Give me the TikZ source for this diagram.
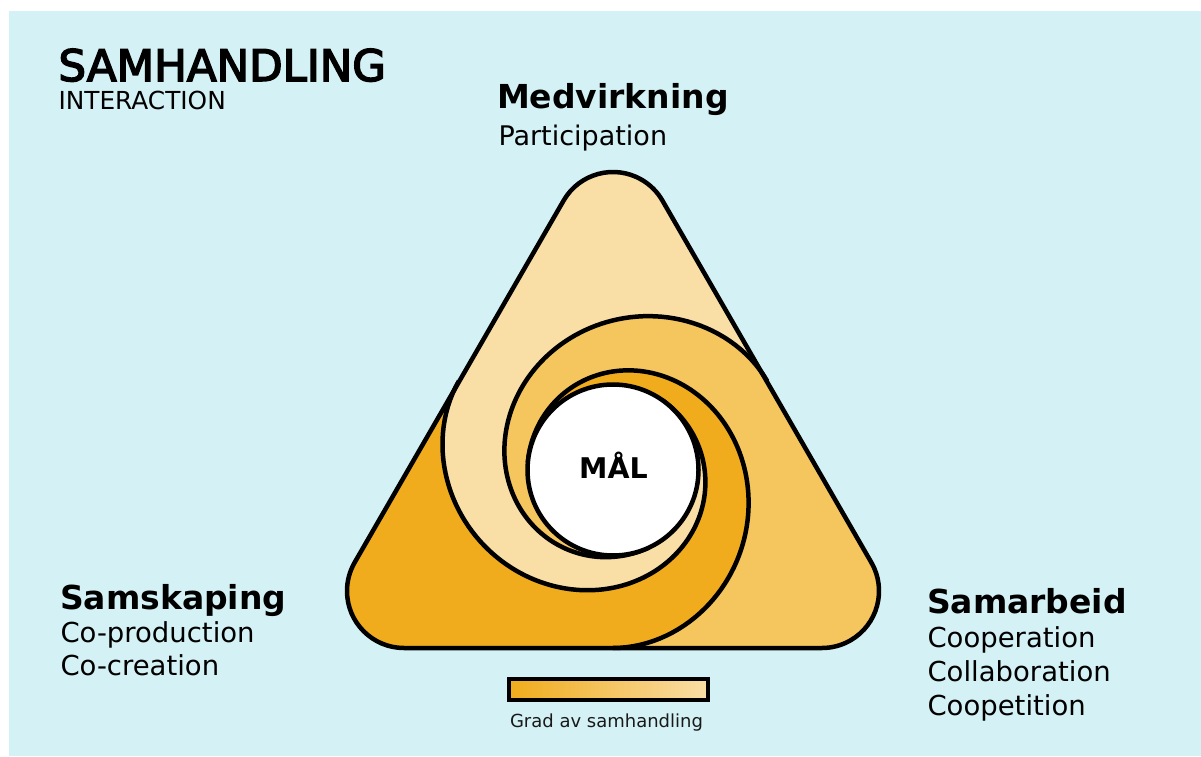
\documentclass[tikz,border=0pt]{standalone}
\usepackage{fontspec}
\setmainfont{DejaVu Sans}
\newfontfamily\semibold{DejaVu Sans}[FakeBold=3.5]
\definecolor{bgc}{HTML}{D4F2F5}
\definecolor{lightc}{HTML}{F9DEA6}
\definecolor{medc}{HTML}{F5C55E}
\definecolor{darkc}{HTML}{F0AC1C}
% band: inner spiral (rotated -120) traversed backwards, corner, outer spiral forwards
\newcommand\bandfill[1]{%
  \fill[#1] plot[domain=0:265, samples=120, variable=\p] ({55-\p}:{sr(175-\p)})
   -- (-307.7,-178)
   -- plot[domain=-90:175, samples=120, variable=\p] ({\p}:{sr(\p)})
   -- (0,0) -- cycle;}
\newcommand\spiralline{%
  \draw[blackline] plot[domain=-90:175, samples=120, variable=\p] ({\p}:{sr(\p)});}
\begin{document}
\begin{tikzpicture}[x=1pt,y=1pt,
  declare function={st(\a)=(\a+90)/265;
    sr(\a)=85.5+92.5*(1-st(\a))^2*(1+2*st(\a)-8.544*st(\a)^2+13.83*st(\a)^3-6.49*st(\a)^4);},
  blackline/.style={line width=4.5pt, line join=round, draw=black},
  lbl/.style={anchor=base west, inner sep=0pt, outer sep=0pt, text=black},
  headfont/.style={font=\fontsize{33}{40}\selectfont\bfseries},
  subfont/.style={font=\fontsize{27.5}{33}\selectfont}]
\useasboundingbox (0,0) rectangle (1201,756);
\fill[white] (0,0) rectangle (1201,756);
\fill[bgc] (9,0) rectangle (1201,745);

\begin{scope}[shift={(613,286)}]
  \begin{scope}
    \clip (-49.36,269.5) arc[start angle=150,end angle=30,radius=57]
      -- (258.36,-92.5) arc[start angle=30,end angle=-90,radius=57]
      -- (-209,-178) arc[start angle=270,end angle=150,radius=57] -- cycle;
    \bandfill{darkc}
    \begin{scope}[rotate=-120]\bandfill{lightc}\end{scope}
    \begin{scope}[rotate=120]\bandfill{medc}\end{scope}
  \end{scope}
  \spiralline
  \begin{scope}[rotate=-120]\spiralline\end{scope}
  \begin{scope}[rotate=120]\spiralline\end{scope}
  \draw[blackline] (-49.36,269.5) arc[start angle=150,end angle=30,radius=57]
      -- (258.36,-92.5) arc[start angle=30,end angle=-90,radius=57]
      -- (-209,-178) arc[start angle=270,end angle=150,radius=57] -- cycle;
  \node[circle, draw=black, line width=4.5pt, fill=white, inner sep=0pt, minimum size=171pt] (goal) at (0,0) {};
  \node[anchor=base, inner sep=0pt, font=\fontsize{28.5}{34}\selectfont\bfseries] (maal) at (0.5,-8) {MÅL};
\end{scope}

\node[lbl, font=\fontsize{43.5}{50}\selectfont\semibold] (title) at (58.5,675) {SAMHANDLING};
\node[lbl, font=\fontsize{24.8}{30}\selectfont] (titlesub) at (58.5,646) {INTERACTION};

\node[lbl, headfont] (medv) at (497,647) {Medvirkning};
\node[lbl, font=\fontsize{27}{32}\selectfont] (part) at (498.5,610) {Participation};

\node[lbl, headfont] (samsk) at (60,147) {Samskaping};
\node[lbl, subfont] (coprod) at (60.5,114) {Co-production};
\node[lbl, subfont] (cocre) at (60.5,81) {Co-creation};

\node[lbl, headfont] (samarb) at (927,143) {Samarbeid};
\node[lbl, subfont] (coop) at (927.5,109) {Cooperation};
\node[lbl, subfont] (collab) at (927.5,75) {Collaboration};
\node[lbl, subfont] (coopet) at (927.5,41) {Coopetition};

\node[draw=black, line width=4pt, minimum width=199pt, minimum height=21pt, inner sep=0pt,
  left color=darkc, right color=lightc] (bar) at (608.5,66.5) {};
\node[lbl, font=\fontsize{18}{22}\selectfont, text=black!90] (legend) at (510,29) {Grad av samhandling};
\end{tikzpicture}
\end{document}
